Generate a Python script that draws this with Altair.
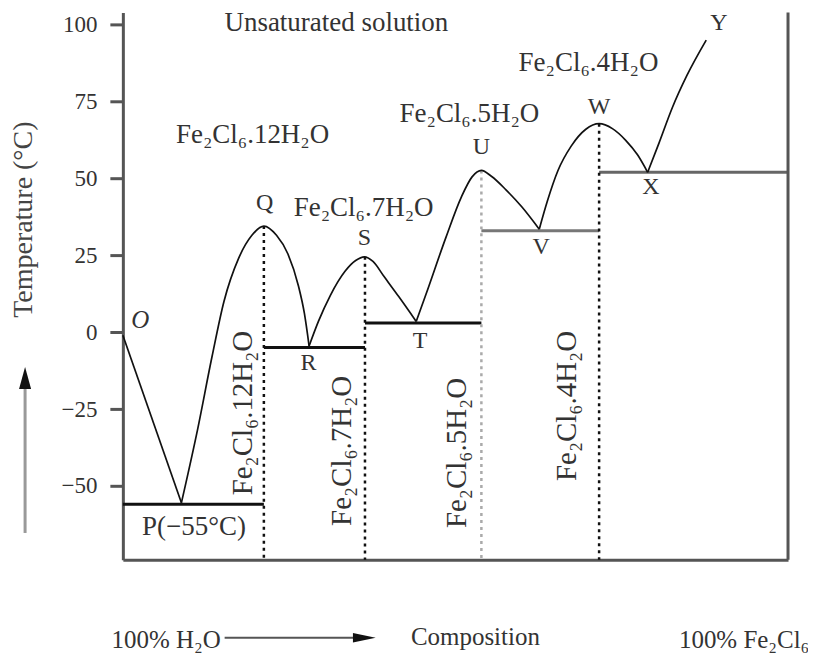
import altair as alt
import pandas as pd

FONT = "Liberation Serif"

# ---- liquidus curve branches (composition %, temperature °C) ----
branch_OP_x = [0, 8.8]
branch_OP_y = [-1, -55.5]
branch_PQR_x = [8.8, 11.2, 13.4, 15.2, 17.4, 19.4, 21.2, 23.1, 24.8, 26.4, 27.3, 28.0]
branch_PQR_y = [-55.5, -32.0, -8.0, 10.0, 24.0, 31.5, 34.5, 31.5, 25.5, 15.0, 6.0, -4.5]
branch_RST_x = [28.0, 29.4, 31.2, 33.4, 35.0, 36.3, 37.6, 39.3, 41.5, 44.1]
branch_RST_y = [-4.5, 3.5, 12.0, 19.8, 23.3, 24.5, 23.0, 18.0, 11.5, 3.5]
branch_TUV_x = [44.1, 45.6, 48.6, 50.9, 52.5, 53.9, 55.4, 57.6, 60.0, 62.6]
branch_TUV_y = [3.5, 12.5, 31.0, 44.0, 50.5, 52.6, 50.7, 46.3, 40.7, 33.5]
branch_VWX_x = [62.6, 63.8, 65.4, 67.4, 69.6, 71.6, 73.6, 75.6, 77.4, 78.9]
branch_VWX_y = [33.5, 42.5, 52.5, 60.5, 66.0, 67.8, 66.2, 62.4, 57.6, 52.0]
branch_XY_x = [78.9, 80.6, 82.6, 84.8, 87.7]
branch_XY_y = [52.0, 61.5, 73.0, 83.5, 95.0]

# ---- eutectic / transition horizontal lines ----
hline_x1 = [0, 21.2, 36.4, 53.9, 71.6]
hline_x2 = [21.2, 36.4, 53.9, 71.6, 100]
hline_y = [-56, -5, 3, 33, 52]
hline_col = ["#111111", "#111111", "#111111", "#777777", "#666666"]

# ---- dotted compound lines ----
vline_x = [21.2, 36.4, 53.9, 71.6]
vline_top = [34.5, 24.5, 52.6, 67.8]
vline_col = ["#111111", "#111111", "#aaaaaa", "#111111"]

Y_MIN, Y_MAX = -74, 104
Y_TICKS = [-50, -25, 0, 25, 50, 75, 100]

# ---- annotation texts ----
h_text = ["Unsaturated solution", "Fe₂Cl₆.12H₂O", "Fe₂Cl₆.7H₂O", "Fe₂Cl₆.5H₂O", "Fe₂Cl₆.4H₂O", "P(−55°C)"]
h_text_x = [32.1, 19.5, 36.2, 52.1, 70.0, 10.7]
h_text_y = [100.7, 64.0, 40.3, 71.1, 87.4, -63.3]

pt_text = ["Q", "S", "R", "T", "U", "V", "W", "X", "Y"]
pt_text_x = [21.3, 36.3, 27.9, 44.7, 53.9, 62.9, 71.6, 79.4, 89.6]
pt_text_y = [41.9, 30.5, -10.1, -2.9, 60.1, 27.6, 73.1, 47.1, 100.7]

o_text = ["O"]
o_text_x = [2.6]
o_text_y = [3.9]

v_text = ["Fe₂Cl₆.12H₂O", "Fe₂Cl₆.7H₂O", "Fe₂Cl₆.5H₂O", "Fe₂Cl₆.4H₂O"]
v_text_x = [18.0, 33.0, 50.3, 66.7]
v_text_y = [-26.3, -38.6, -39.3, -24.0]

b_text = ["100% H₂O", "Composition", "100% Fe₂Cl₆"]
b_text_x = [6.5, 53.0, 93.4]
b_text_y = [-100.0, -99.0, -100.0]

# composition arrow and temperature arrow (data units)
comp_arrow_x1, comp_arrow_x2, comp_arrow_y = 15.3, 35.8, -99.4
comp_head_x = 36.3
temp_arrow_x, temp_arrow_y1, temp_arrow_y2 = -14.7, -65.3, -18.0
temp_head_y = -14.9

ARROW_UP = "M0,-1L0.55,1L-0.55,1Z"
ARROW_RIGHT = "M1,0L-1,-0.42L-1,0.42Z"

# ---------------- build tables ----------------
curve_rows = []
for name, xs_, ys_ in [("OP", branch_OP_x, branch_OP_y), ("PQR", branch_PQR_x, branch_PQR_y),
                       ("RST", branch_RST_x, branch_RST_y), ("TUV", branch_TUV_x, branch_TUV_y),
                       ("VWX", branch_VWX_x, branch_VWX_y), ("XY", branch_XY_x, branch_XY_y)]:
    for a, b in zip(xs_, ys_):
        curve_rows.append({"branch": name, "x": a, "y": b})
curve_df = pd.DataFrame(curve_rows)

hline_df = pd.DataFrame({"x": hline_x1, "x2": hline_x2, "y": hline_y, "c": hline_col})
vline_df = pd.DataFrame({"x": vline_x, "y": vline_top, "y2": [Y_MIN] * len(vline_x), "c": vline_col})
border_df = pd.DataFrame({"x": [100], "y": [Y_MIN], "y2": [Y_MAX]})

xs = alt.Scale(domain=[0, 100], nice=False, zero=False)
ys = alt.Scale(domain=[Y_MIN, Y_MAX], nice=False, zero=False)

x_axis = alt.Axis(labels=False, ticks=False, grid=False, domainColor="#555555", domainWidth=3)
y_axis = alt.Axis(values=Y_TICKS, grid=False, tickSize=13, tickWidth=3, tickColor="#555555",
                  domainColor="#555555", domainWidth=3, labelFont=FONT, labelFontSize=23,
                  labelColor="#333333", labelPadding=13,
                  titleFont=FONT, titleFontSize=28, titleFontWeight="normal", titleColor="#444444",
                  titleX=-99, titleY=207, titleAngle=270, titleAlign="center", titleBaseline="middle")

X = alt.X("x:Q", scale=xs, axis=x_axis, title=None)
Y = alt.Y("y:Q", scale=ys, axis=y_axis, title="Temperature (°C)")

hlines = alt.Chart(hline_df).mark_rule(strokeWidth=3).encode(
    x=X, x2="x2:Q", y=Y, color=alt.Color("c:N", scale=None))

vlines = alt.Chart(vline_df).mark_rule(strokeWidth=2.5, strokeDash=[3, 4]).encode(
    x=X, y=Y, y2="y2:Q", color=alt.Color("c:N", scale=None))

border = alt.Chart(border_df).mark_rule(strokeWidth=3, color="#555555").encode(
    x=X, y=Y, y2="y2:Q")

curve = alt.Chart(curve_df).mark_line(interpolate="monotone", color="#111111", strokeWidth=1.7).encode(
    x=X, y=Y, detail="branch:N", order="x:Q")

def text_layer(texts, tx, ty, size, **kw):
    df = pd.DataFrame({"t": texts, "x": tx, "y": ty})
    return alt.Chart(df).mark_text(font=FONT, fontSize=size, color="#333333",
                                   align="center", baseline="middle", **kw).encode(
        x=X, y=Y, text="t:N")

t_h = text_layer(h_text, h_text_x, h_text_y, 27)
t_pt = text_layer(pt_text, pt_text_x, pt_text_y, 24)
t_o = text_layer(o_text, o_text_x, o_text_y, 25, fontStyle="italic")
t_v = text_layer(v_text, v_text_x, v_text_y, 29, angle=270)
t_b = text_layer(b_text, b_text_x, b_text_y, 25)

comp_shaft = alt.Chart(pd.DataFrame({"x": [comp_arrow_x1], "x2": [comp_arrow_x2], "y": [comp_arrow_y]})).mark_rule(
    strokeWidth=2, color="#555555").encode(x=X, x2="x2:Q", y=Y)
comp_head = alt.Chart(pd.DataFrame({"x": [comp_head_x], "y": [comp_arrow_y]})).mark_point(
    shape=ARROW_RIGHT, filled=True, color="#111111", size=520, opacity=1, strokeWidth=0).encode(x=X, y=Y)

temp_shaft = alt.Chart(pd.DataFrame({"x": [temp_arrow_x], "y": [temp_arrow_y1], "y2": [temp_arrow_y2]})).mark_rule(
    strokeWidth=3, color="#999999").encode(x=X, y=Y, y2="y2:Q")
temp_head = alt.Chart(pd.DataFrame({"x": [temp_arrow_x], "y": [temp_head_y]})).mark_point(
    shape=ARROW_UP, filled=True, color="#111111", size=480, opacity=1, strokeWidth=0).encode(x=X, y=Y)

chart = alt.layer(
    hlines, vlines, border, curve, t_h, t_pt, t_o, t_v, t_b,
    comp_shaft, comp_head, temp_shaft, temp_head
).properties(
    width=666, height=548,
    autosize=alt.AutoSizeParams(type="none"),
    padding={"left": 115, "top": 4, "right": 20, "bottom": 100},
    background="white",
).configure_view(strokeWidth=0)

chart.save("out.html", embed_options={"renderer": "svg", "actions": False})
